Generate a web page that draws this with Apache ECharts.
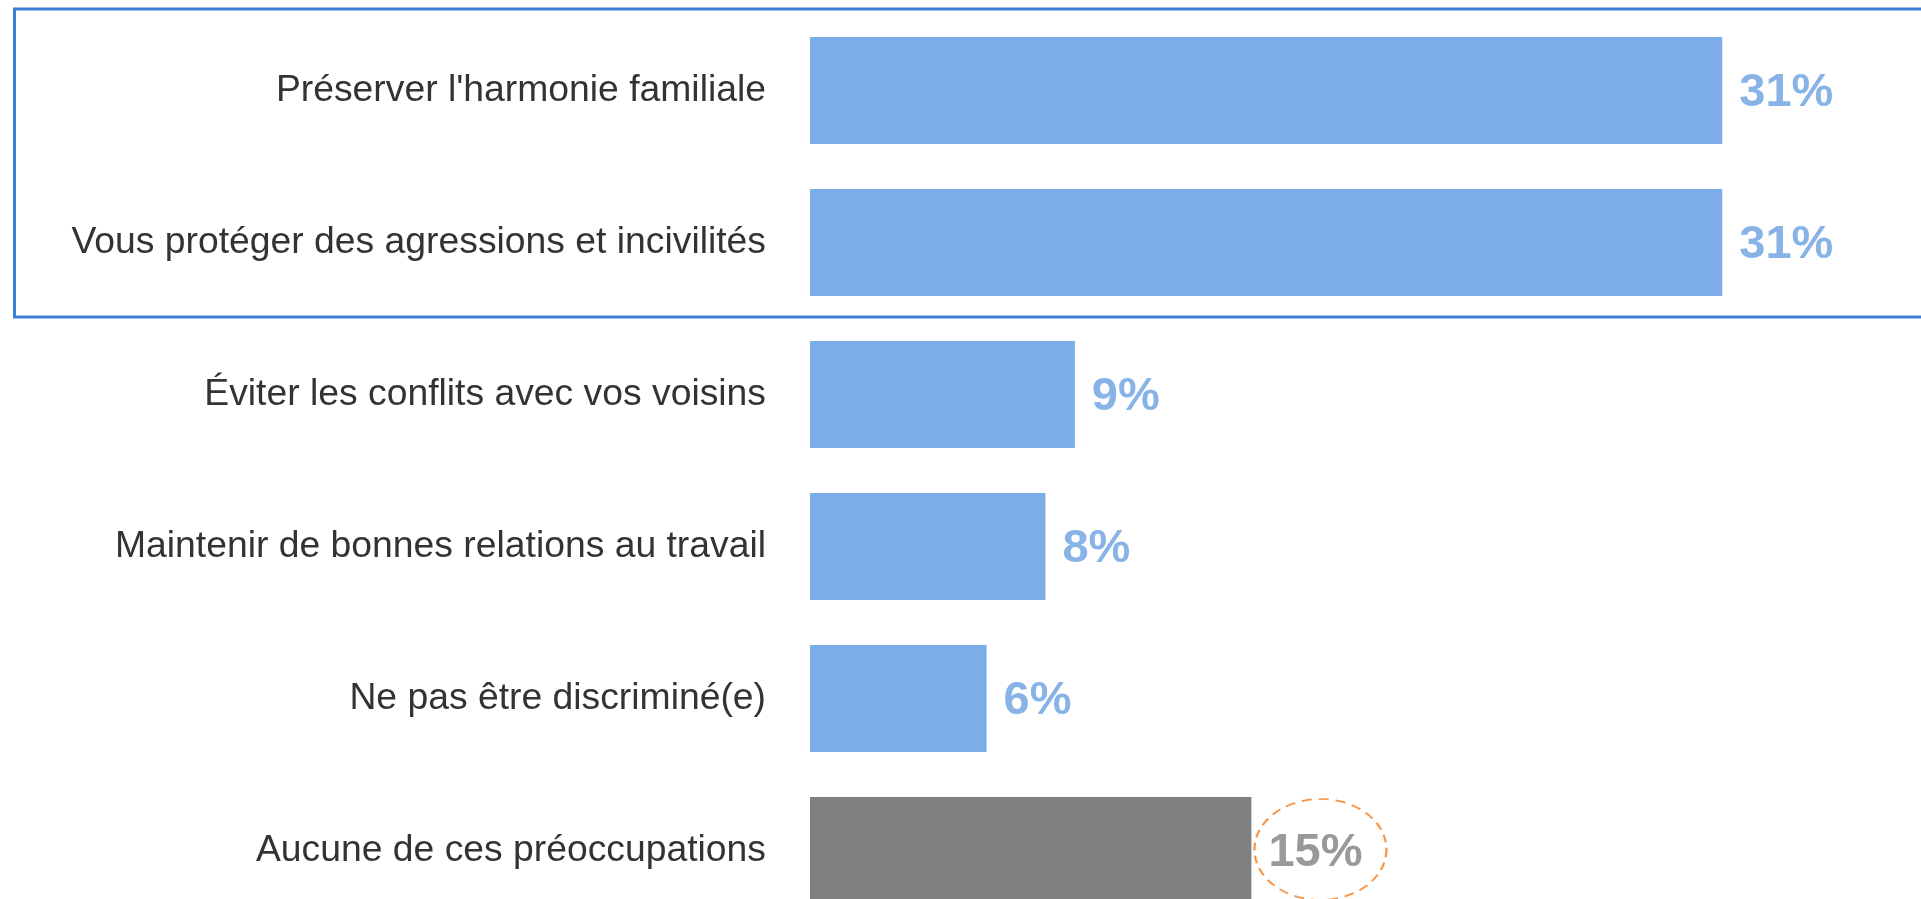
<!DOCTYPE html>
<html>
<head>
<meta charset="utf-8">
<script src="https://cdn.jsdelivr.net/npm/echarts@6/dist/echarts.min.js"></script>
<style>
  html, body { margin: 0; padding: 0; background: #ffffff; }
  #main { width: 1921px; height: 899px; }
</style>
</head>
<body>
<div id="main"></div>
<script>
// catégories (haut vers bas) et valeurs en %
const categories = [
  "Préserver l'harmonie familiale",
  'Vous protéger des agressions et incivilités',
  'Éviter les conflits avec vos voisins',
  'Maintenir de bonnes relations au travail',
  'Ne pas être discriminé(e)',
  'Aucune de ces préoccupations'
];
const values = [31, 31, 9, 8, 6, 15];
const neutralCategory = 'Aucune de ces préoccupations';
const framedCategories = [categories[0], categories[1]];

const BLUE = '#7DADE6';
const BLUE_LABEL = '#88B3E7';
const GREY = '#808080';
const GREY_LABEL = '#999999';
const ORANGE = '#F79646';
const FONT = "'Liberation Sans', Arial, sans-serif";

const myChart = echarts.init(document.getElementById('main'));

const barData = categories.map((c, i) => {
  const neutral = c === neutralCategory;
  return {
    value: values[i],
    itemStyle: { color: neutral ? GREY : BLUE },
    label: { color: neutral ? GREY_LABEL : BLUE_LABEL }
  };
});

const neutralIdx = categories.indexOf(neutralCategory);

const option = {
  backgroundColor: '#ffffff',
  animation: false,
  grid: {
    left: 810, top: 14.5, width: 1030, height: 912,
    containLabel: false,
    outerBoundsMode: 'none'
  },
  xAxis: {
    type: 'value',
    min: 0,
    max: 35,
    show: false
  },
  yAxis: {
    type: 'category',
    inverse: true,
    data: categories,
    axisLine: { show: false },
    axisTick: { show: false },
    splitLine: { show: false },
    axisLabel: {
      color: '#333333',
      fontSize: 37.3,
      fontFamily: FONT,
      margin: 44,
      padding: [6, 0, 0, 0]
    }
  },
  series: [{
    type: 'bar',
    barWidth: 107,
    data: barData,
    label: {
      show: true,
      position: 'right',
      distance: 17,
      offset: [0, 3],
      formatter: '{c}%',
      fontSize: 47,
      fontWeight: 'bold',
      fontFamily: FONT
    },
    markPoint: {
      silent: true,
      symbol: 'circle',
      symbolSize: [132, 101],
      symbolOffset: [69, -1],
      itemStyle: {
        color: 'rgba(0,0,0,0)',
        borderColor: ORANGE,
        borderWidth: 2,
        borderType: [9, 6]
      },
      label: { show: false },
      data: [{ coord: [values[neutralIdx], neutralCategory] }]
    }
  }]
};

myChart.setOption(option);

// cadre bleu autour des deux premières catégories
const yTop = myChart.convertToPixel({ yAxisIndex: 0 }, framedCategories[0]);
const yBot = myChart.convertToPixel({ yAxisIndex: 0 }, framedCategories[1]);
myChart.setOption({
  graphic: [{
    type: 'rect',
    silent: true,
    shape: { x: 14.5, y: yTop - 81.5, width: 1930, height: (yBot - yTop) + 81.5 + 74.5 },
    style: { fill: 'none', stroke: '#3A7ED7', lineWidth: 3 }
  }]
});
</script>
</body>
</html>
